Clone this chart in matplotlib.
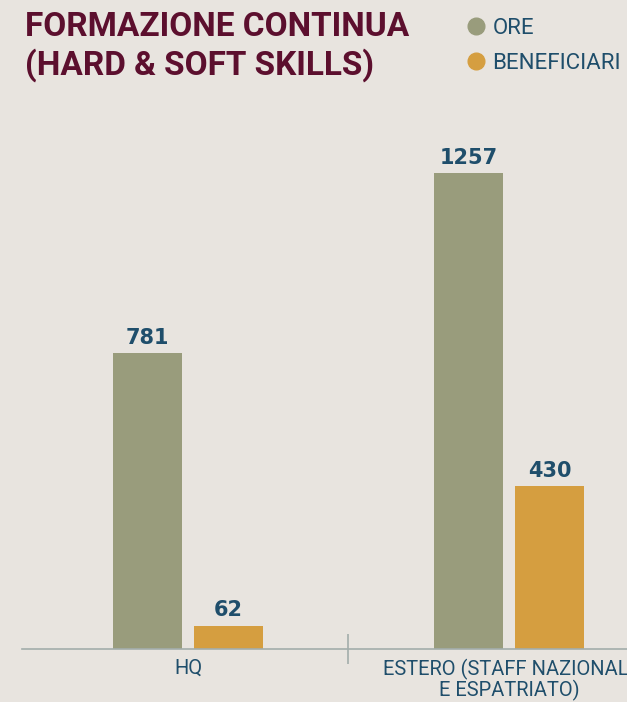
import numpy as np
import matplotlib.pyplot as plt
from matplotlib.lines import Line2D

# training data: hours and beneficiaries per area
categories = ["HQ", "ESTERO (STAFF NAZIONALI\nE ESPATRIATO)"]
ore = [781, 1257]
beneficiari = [62, 430]
series_names = ["ORE", "BENEFICIARI"]

BG = "#e8e4df"
C_ORE = "#999c7c"
C_BEN = "#d59e40"
TEAL = "#1f4e6b"
MAROON = "#5c0f2e"
FONT = ["Roboto", "DejaVu Sans"]

fig = plt.figure(figsize=(6.27, 7.02), dpi=100, facecolor=BG)
# axes deliberately run past the right edge of the figure
ax = fig.add_axes([22 / 627, 53 / 702, 808 / 627, 549 / 702], facecolor=BG)

x = np.arange(len(categories))
w = 69 / 321
gap = 12 / 321
b1 = ax.bar(x - (w + gap) / 2, ore, width=w, color=C_ORE)
b2 = ax.bar(x + (w + gap) / 2, beneficiari, width=w, color=C_BEN)

for bars in (b1, b2):
    ax.bar_label(bars, padding=4, color=TEAL, fontsize=15, fontweight="bold",
                 family=["DejaVu Sans"])

x0 = -166 / 321
ax.set_xlim(x0, x0 + 808 / 321)
ax.set_ylim(0, 1450)

for s in ("top", "right", "left"):
    ax.spines[s].set_visible(False)
ax.spines["bottom"].set_color("#a3adab")
ax.spines["bottom"].set_linewidth(1.2)
ax.set_yticks([])

ax.set_xticks(x)
ax.set_xticklabels(categories, color=TEAL, fontsize=14.5, family=FONT,
                   linespacing=1.0)
ax.tick_params(axis="x", which="major", length=0, pad=7)
ax.set_xticks([0.5], minor=True)
ax.tick_params(axis="x", which="minor", direction="inout", length=21,
               width=1.2, color="#a3adab")

fig.text(25 / 627, 1 - 11 / 702, "FORMAZIONE CONTINUA\n(HARD & SOFT SKILLS)",
         color=MAROON, fontsize=24, fontweight="bold", family=FONT,
         va="top", ha="left", linespacing=1.2)

handles = [Line2D([], [], marker="o", ls="", markersize=12, color=c)
           for c in (C_ORE, C_BEN)]
leg = fig.legend(handles, series_names, loc="upper left",
                 bbox_to_anchor=(439 / 627, 1 + 2 / 702), frameon=False,
                 handletextpad=0.0, labelspacing=0.62, handlelength=1.5,
                 prop={"family": FONT, "size": 16})
for t in leg.get_texts():
    t.set_color(TEAL)

fig.savefig("out.png", dpi=100, facecolor=BG)
